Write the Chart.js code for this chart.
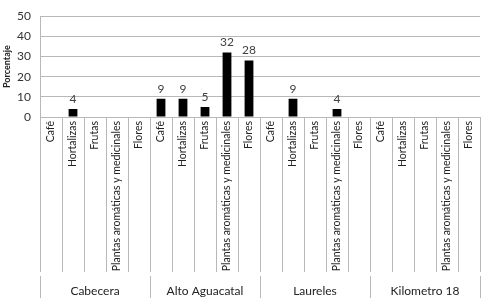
<!DOCTYPE html>
<html>
<head>
<meta charset="utf-8">
<script src="https://cdn.jsdelivr.net/npm/chart.js@4.4.1/dist/chart.umd.min.js"></script>
<style>
html,body{margin:0;padding:0;background:#fff;}
#wrap{width:481px;height:302px;position:relative;}
</style>
</head>
<body>
<div id="wrap"><canvas id="c" width="481" height="302"></canvas></div>
<script>
const groups = ['Cabecera', 'Alto Aguacatal', 'Laureles', 'Kilometro 18'];
const crops = ['Café', 'Hortalizas', 'Frutas', 'Plantas aromáticas y medicinales', 'Flores'];
const cabecera = [0, 4, 0, 0, 0];
const altoAguacatal = [9, 9, 5, 32, 28];
const laureles = [0, 9, 0, 4, 0];
const kilometro18 = [0, 0, 0, 0, 0];
const yTicks = [0, 10, 20, 30, 40, 50];

const labels = [];
groups.forEach(() => crops.forEach(c => labels.push(c)));
const values = [].concat(cabecera, altoAguacatal, laureles, kilometro18);

const FONT = 'Lato, "Open Sans", sans-serif';
const GRID = '#b8b8b8';

const valueLabels = {
  id: 'valueLabels',
  afterDatasetsDraw(chart) {
    const ctx = chart.ctx;
    const meta = chart.getDatasetMeta(0);
    ctx.save();
    ctx.font = '12px ' + FONT;
    ctx.fillStyle = '#404040';
    ctx.textAlign = 'center';
    ctx.textBaseline = 'bottom';
    meta.data.forEach((bar, i) => {
      const v = chart.data.datasets[0].data[i];
      if (v > 0) ctx.fillText(String(v), bar.x, bar.y - 4);
    });
    ctx.restore();
  }
};

new Chart(document.getElementById('c'), {
  type: 'bar',
  data: {
    labels: labels,
    datasets: [{
      data: values,
      backgroundColor: '#000000',
      borderWidth: 0,
      barPercentage: 0.4,
      categoryPercentage: 1.0
    }]
  },
  options: {
    responsive: false,
    animation: false,
    events: [],
    layout: { padding: { top: 7, right: 1, bottom: 0, left: 0 } },
    plugins: { legend: { display: false }, tooltip: { enabled: false } },
    scales: {
      x: {
        type: 'category',
        position: 'bottom',
        weight: 0,
        offset: true,
        grid: { offset: true, drawOnChartArea: false, drawTicks: true, tickLength: 155, color: GRID, lineWidth: 1 },
        border: { display: true, color: GRID },
        ticks: {
          autoSkip: false, minRotation: 90, maxRotation: 90, padding: -151,
          color: '#222', font: { family: FONT, size: 10.5 }
        },
        afterFit(s) { s.height = 159; }
      },
      x2: {
        type: 'category',
        position: 'bottom',
        weight: 1,
        labels: groups,
        offset: true,
        grid: { offset: true, drawOnChartArea: false, drawTicks: true, tickLength: 22, color: GRID, lineWidth: 1 },
        border: { display: false },
        ticks: { autoSkip: false, maxRotation: 0, padding: -14, color: '#222', font: { family: FONT, size: 12 } },
        afterFit(s) { s.height = 26; }
      },
      y: {
        min: 0, max: 50,
        afterBuildTicks(s) { s.ticks = yTicks.map(v => ({ value: v })); },
        grid: { color: GRID, drawTicks: false, lineWidth: 1 },
        border: { display: true, color: GRID },
        ticks: { padding: 9, color: '#333', font: { family: FONT, size: 12 } },
        title: { display: true, text: 'Porcentaje', color: '#222', font: { family: FONT, size: 9, weight: 'bold' }, padding: { top: 2, bottom: 0 } },
        afterFit(s) { s.width = 40; }
      }
    }
  },
  plugins: [valueLabels]
});
</script>
</body>
</html>
